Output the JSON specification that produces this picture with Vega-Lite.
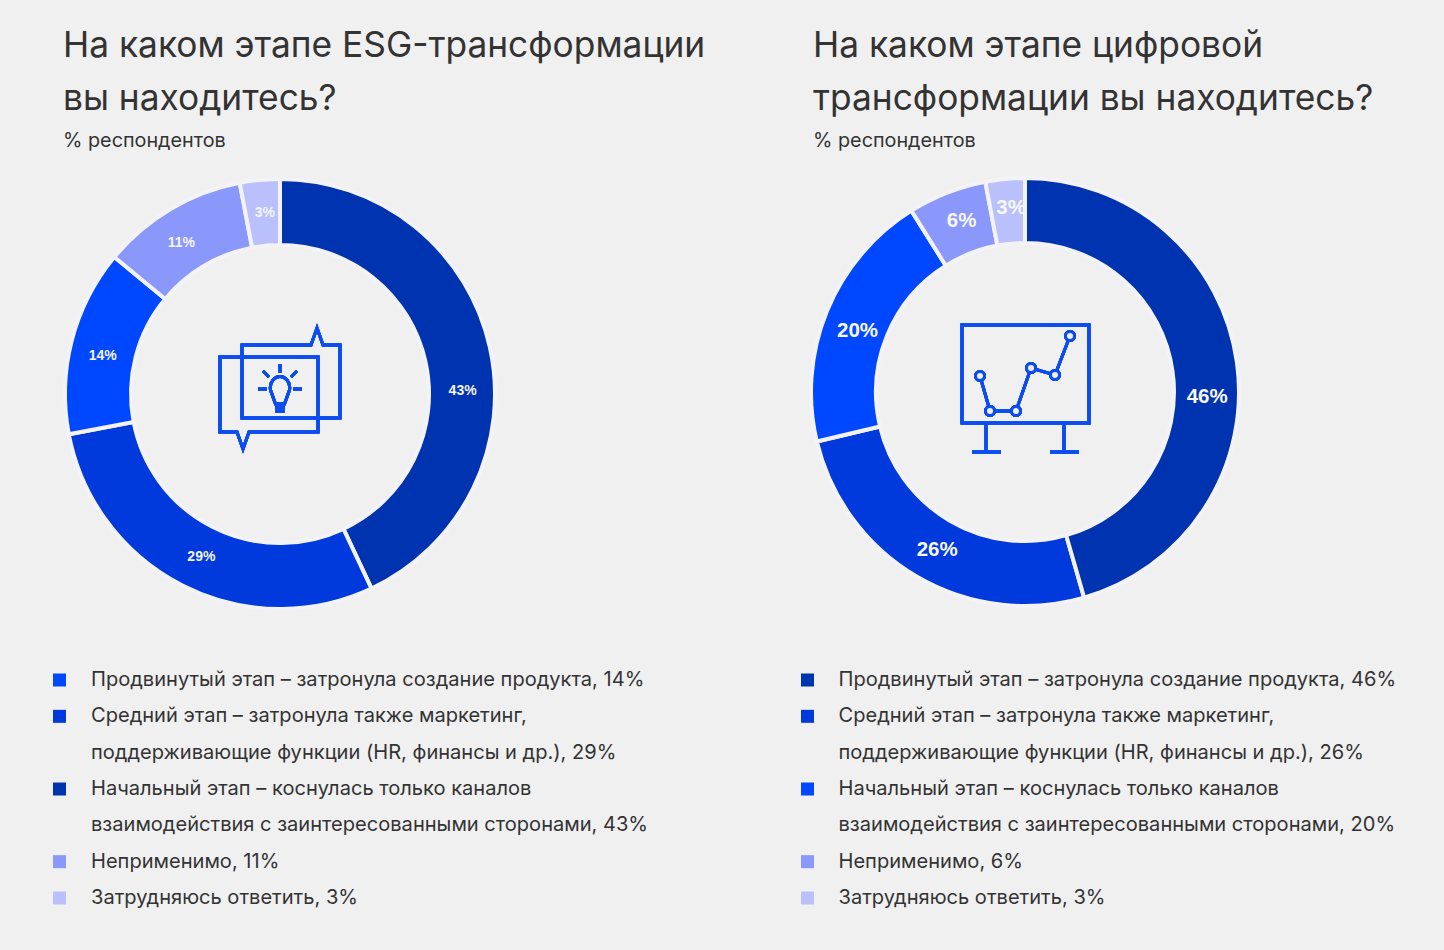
{
"$schema":"https://vega.github.io/schema/vega-lite/v6.json",
"background":"#f0f0f1",
"padding":{"left":0,"top":28,"right":0,"bottom":0},
"spacing":0,
"config":{"view":{"stroke":null},"concat":{"spacing":0},"font":"Inter"},
"resolve":{"scale":{"color":"independent","theta":"independent"}},
"hconcat":[
{"spacing":0,"vconcat":[
{"width":560,"height":448,
"title":{"text":["На каком этапе ESG-трансформации","вы находитесь?"],"subtitle":"% респондентов","anchor":"start","frame":"group","align":"left","dx":63,"font":"Inter","fontSize":35.3,"fontWeight":400,"lineHeight":53,"color":"#333333","subtitleFont":"Inter","subtitleFontSize":19.8,"subtitleColor":"#333333","subtitlePadding":14,"offset":19},
"data":{"values":[
{"stage":"Начальный этап","value":43,"label":"43%","ord":1},
{"stage":"Средний этап","value":29,"label":"29%","ord":2},
{"stage":"Продвинутый этап","value":14,"label":"14%","ord":3},
{"stage":"Неприменимо","value":11,"label":"11%","ord":4},
{"stage":"Затрудняюсь ответить","value":3,"label":"3%","ord":5}]},
"encoding":{"theta":{"field":"value","type":"quantitative","stack":true},"order":{"field":"ord"},"detail":{"field":"stage"}},
"layer":[
{"mark":{"type":"arc","outerRadius":215,"innerRadius":149,"stroke":"#f3f3f7","strokeWidth":4},
"encoding":{"color":{"field":"stage","type":"nominal","legend":null,"scale":{"domain":["Продвинутый этап","Средний этап","Начальный этап","Неприменимо","Затрудняюсь ответить"],"range":["#0048ff","#0039dc","#0033b0","#8a97fb","#b9c0fb"]}}}},
{"mark":{"type":"text","radius":182,"dx":5,"dy":37,"font":"Liberation Sans","fontWeight":"bold","fontSize":14,"fill":"#f4f4fb"},"encoding":{"text":{"condition":{"test":"datum.ord==1","field":"label"},"value":""}}},
{"mark":{"type":"text","radius":182,"dx":4,"dy":1,"font":"Liberation Sans","fontWeight":"bold","fontSize":14,"fill":"#f4f4fb"},"encoding":{"text":{"condition":{"test":"datum.ord==2","field":"label"},"value":""}}},
{"mark":{"type":"text","radius":182,"dx":-1,"dy":7,"font":"Liberation Sans","fontWeight":"bold","fontSize":14,"fill":"#f4f4fb"},"encoding":{"text":{"condition":{"test":"datum.ord==3","field":"label"},"value":""}}},
{"mark":{"type":"text","radius":182,"dx":-6,"dy":6,"font":"Liberation Sans","fontWeight":"bold","fontSize":14,"fill":"#f4f4fb"},"encoding":{"text":{"condition":{"test":"datum.ord==4","field":"label"},"value":""}}},
{"mark":{"type":"text","radius":182,"dx":2,"dy":0,"font":"Liberation Sans","fontWeight":"bold","fontSize":14,"fill":"#f4f4fb"},"encoding":{"text":{"condition":{"test":"datum.ord==5","field":"label"},"value":""}}},
{"mark":{"type":"point","shape":"M-60 -37 L38 -37 L38 38 L-31 38 L-37 55 L-43 38 L-60 38 Z M-38 -49 L31 -49 L37 -66 L43 -49 L60 -49 L60 24 L-38 24 Z M0 -30 L0 -21 M-17 -23 L-11 -17 M17 -23 L11 -17 M-22 -5 L-13 -5 M13 -5 L22 -5 M-4.5 10 L-9.5 -4 C-11 -12 -5 -17.5 0 -17.5 C5 -17.5 11 -12 9.5 -4 L4.5 10 Z","size":4,"fill":"transparent","stroke":"#0b4df0","strokeWidth":3,"opacity":1},"encoding":{"theta":null,"order":null,"detail":null}},
{"mark":{"type":"point","shape":"M-5 12 L5 12 L5 19 L-5 19 Z","size":4,"filled":true,"fill":"#0b4df0","opacity":1},"encoding":{"theta":null,"order":null,"detail":null}}
]},
{"width":722,"height":333,
"data":{"values":[
{"line":1,"stage":"Продвинутый этап","text":"Продвинутый этап – затронула создание продукта, 14%"},
{"line":2,"stage":"Средний этап","text":"Средний этап – затронула также маркетинг,"},
{"line":3,"text":"поддерживающие функции (HR, финансы и др.), 29%"},
{"line":4,"stage":"Начальный этап","text":"Начальный этап – коснулась только каналов"},
{"line":5,"text":"взаимодействия с заинтересованными сторонами, 43%"},
{"line":6,"stage":"Неприменимо","text":"Неприменимо, 11%"},
{"line":7,"stage":"Затрудняюсь ответить","text":"Затрудняюсь ответить, 3%"}]},
"layer":[
{"transform":[{"filter":"isValid(datum.stage)"}],
"mark":{"type":"square","size":169,"opacity":1},
"encoding":{"x":{"datum":"swatch","type":"nominal","axis":null,"scale":{"type":"point","padding":0,"domain":["swatch","label"],"range":[59.5,91]}},
"y":{"field":"line","type":"ordinal","axis":null,"scale":{"type":"point","padding":0,"domain":[1,2,3,4,5,6,7],"range":[62,280]}},
"color":{"field":"stage","type":"nominal","legend":null}}},
{"mark":{"type":"text","align":"left","baseline":"middle","font":"Inter","fontSize":20.07,"fill":"#333333"},
"encoding":{"x":{"datum":"label","type":"nominal","axis":null,"scale":{"type":"point","padding":0,"domain":["swatch","label"],"range":[59.5,91]}},
"y":{"field":"line","type":"ordinal","axis":null,"scale":{"type":"point","padding":0,"domain":[1,2,3,4,5,6,7],"range":[62,280]}},
"text":{"field":"text"}}}
]}
]},
{"spacing":4,"vconcat":[
{"width":606,"height":444,
"title":{"text":["На каком этапе цифровой","трансформации вы находитесь?"],"subtitle":"% респондентов","anchor":"start","frame":"group","align":"left","dx":91,"font":"Inter","fontSize":35.3,"fontWeight":400,"lineHeight":53,"color":"#333333","subtitleFont":"Inter","subtitleFontSize":19.8,"subtitleColor":"#333333","subtitlePadding":14,"offset":19},
"data":{"values":[
{"stage":"Продвинутый этап","value":46,"label":"46%","ord":1},
{"stage":"Средний этап","value":26,"label":"26%","ord":2},
{"stage":"Начальный этап","value":20,"label":"20%","ord":3},
{"stage":"Неприменимо","value":6,"label":"6%","ord":4},
{"stage":"Затрудняюсь ответить","value":3,"label":"3%","ord":5}]},
"encoding":{"theta":{"field":"value","type":"quantitative","stack":true},"order":{"field":"ord"},"detail":{"field":"stage"}},
"layer":[
{"mark":{"type":"arc","outerRadius":214,"innerRadius":149,"stroke":"#f3f3f7","strokeWidth":4},
"encoding":{"color":{"field":"stage","type":"nominal","legend":null,"scale":{"domain":["Продвинутый этап","Средний этап","Начальный этап","Неприменимо","Затрудняюсь ответить"],"range":["#0033b0","#0039dc","#0048ff","#8a97fb","#b9c0fb"]}}}},
{"mark":{"type":"text","radius":182,"dx":4,"dy":1,"font":"Liberation Sans","fontWeight":"bold","fontSize":20.5,"fill":"#f8f8fd"},"encoding":{"text":{"condition":{"test":"datum.ord==2","field":"label"},"value":""}}},
{"mark":{"type":"text","radius":182,"dx":1,"dy":8,"font":"Liberation Sans","fontWeight":"bold","fontSize":20.5,"fill":"#f8f8fd"},"encoding":{"text":{"condition":{"test":"datum.ord==3","field":"label"},"value":""}}},
{"mark":{"type":"text","radius":182,"dx":3,"dy":-2,"font":"Liberation Sans","fontWeight":"bold","fontSize":20.5,"fill":"#f8f8fd"},"encoding":{"text":{"condition":{"test":"datum.ord==4","field":"label"},"value":""}}},
{"mark":{"type":"text","radius":182,"dx":3,"dy":-3,"font":"Liberation Sans","fontWeight":"bold","fontSize":20.5,"fill":"#f8f8fd"},"encoding":{"text":{"condition":{"test":"datum.ord==5","field":"label"},"value":""}}},
{"mark":{"type":"arc","outerRadius":214,"innerRadius":149,"fill":"#0033b0","stroke":"#f3f3f7","strokeWidth":4},"encoding":{"opacity":{"condition":{"test":"datum.ord==1","value":1},"value":0}}},
{"mark":{"type":"text","radius":182,"dx":2,"dy":30,"font":"Liberation Sans","fontWeight":"bold","fontSize":20.5,"fill":"#f8f8fd"},"encoding":{"text":{"condition":{"test":"datum.ord==1","field":"label"},"value":""}}},
{"mark":{"type":"point","shape":"M-63 -67 L64 -67 L64 31 L-63 31 Z M-39 31 L-39 60 M39 31 L39 60 M-53 60 L-24 60 M25 60 L54 60 M-45 -16 L-35 19 L-9 19 L6 -24 L30 -17 L45 -56","size":4,"fill":"transparent","stroke":"#0b4df0","strokeWidth":3,"opacity":1},"encoding":{"theta":null,"order":null,"detail":null}},
{"mark":{"type":"point","shape":"M-40.5 -16 A4.5 4.5 0 1 1 -49.5 -16 A4.5 4.5 0 1 1 -40.5 -16 Z M-30.5 19 A4.5 4.5 0 1 1 -39.5 19 A4.5 4.5 0 1 1 -30.5 19 Z M-4.5 19 A4.5 4.5 0 1 1 -13.5 19 A4.5 4.5 0 1 1 -4.5 19 Z M10.5 -24 A4.5 4.5 0 1 1 1.5 -24 A4.5 4.5 0 1 1 10.5 -24 Z M34.5 -17 A4.5 4.5 0 1 1 25.5 -17 A4.5 4.5 0 1 1 34.5 -17 Z M49.5 -56 A4.5 4.5 0 1 1 40.5 -56 A4.5 4.5 0 1 1 49.5 -56 Z","size":4,"fill":"#f0f0f1","stroke":"#0b4df0","strokeWidth":3,"opacity":1},"encoding":{"theta":null,"order":null,"detail":null}}
]},
{"width":722,"height":333,
"data":{"values":[
{"line":1,"stage":"Продвинутый этап","text":"Продвинутый этап – затронула создание продукта, 46%"},
{"line":2,"stage":"Средний этап","text":"Средний этап – затронула также маркетинг,"},
{"line":3,"text":"поддерживающие функции (HR, финансы и др.), 26%"},
{"line":4,"stage":"Начальный этап","text":"Начальный этап – коснулась только каналов"},
{"line":5,"text":"взаимодействия с заинтересованными сторонами, 20%"},
{"line":6,"stage":"Неприменимо","text":"Неприменимо, 6%"},
{"line":7,"stage":"Затрудняюсь ответить","text":"Затрудняюсь ответить, 3%"}]},
"layer":[
{"transform":[{"filter":"isValid(datum.stage)"}],
"mark":{"type":"square","size":169,"opacity":1},
"encoding":{"x":{"datum":"swatch","type":"nominal","axis":null,"scale":{"type":"point","padding":0,"domain":["swatch","label"],"range":[85.5,116.5]}},
"y":{"field":"line","type":"ordinal","axis":null,"scale":{"type":"point","padding":0,"domain":[1,2,3,4,5,6,7],"range":[62,280]}},
"color":{"field":"stage","type":"nominal","legend":null}}},
{"mark":{"type":"text","align":"left","baseline":"middle","font":"Inter","fontSize":20.07,"fill":"#333333"},
"encoding":{"x":{"datum":"label","type":"nominal","axis":null,"scale":{"type":"point","padding":0,"domain":["swatch","label"],"range":[85.5,116.5]}},
"y":{"field":"line","type":"ordinal","axis":null,"scale":{"type":"point","padding":0,"domain":[1,2,3,4,5,6,7],"range":[62,280]}},
"text":{"field":"text"}}}
]}
]}
]
}
